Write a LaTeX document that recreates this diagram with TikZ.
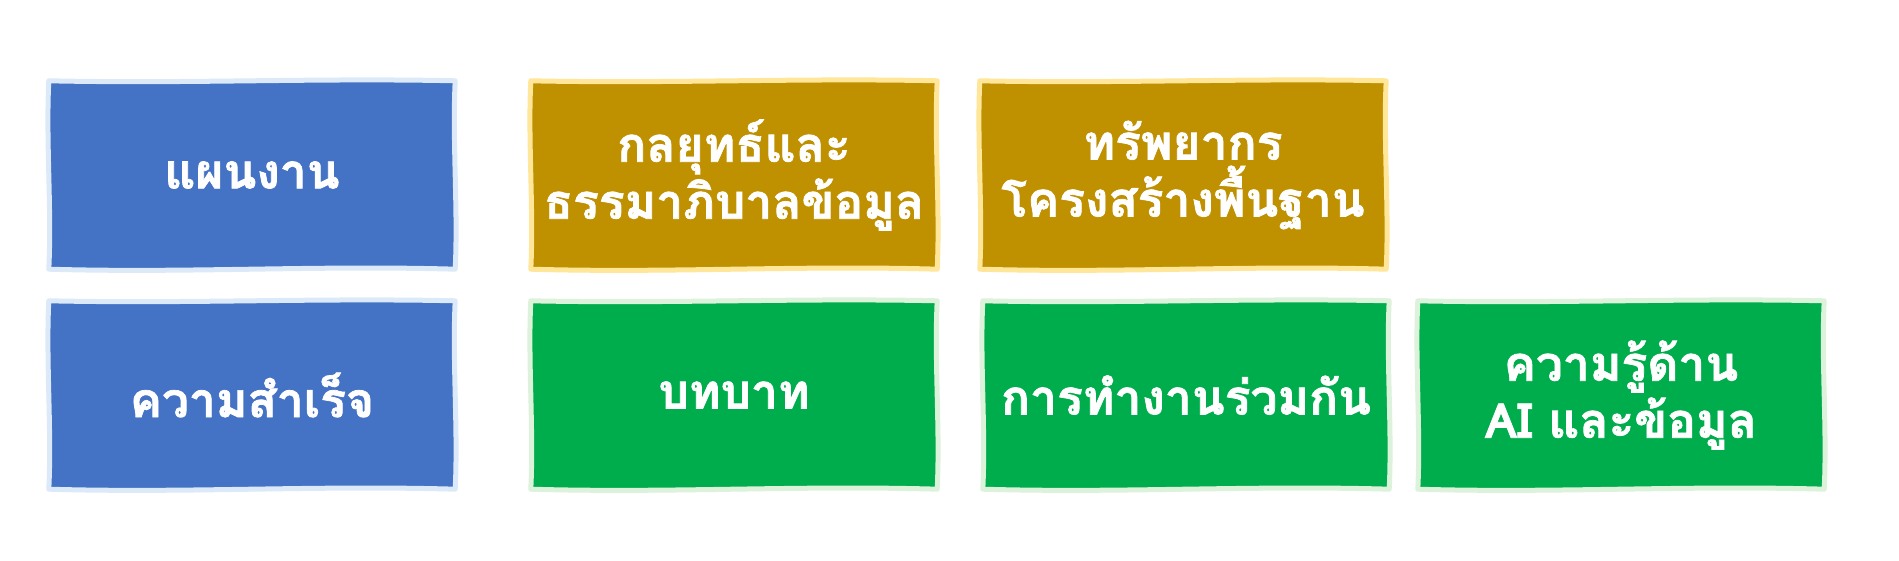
\documentclass[tikz,border=0pt]{standalone}
\usepackage{fontspec}
\newfontfamily\thaifont[Script=Thai,BoldFeatures={FakeBold=1.5}]{Loma}
\definecolor{cblue}{HTML}{4472C4}
\definecolor{cblueb}{HTML}{DCE9F8}
\definecolor{cgold}{HTML}{BF9000}
\definecolor{cgoldb}{HTML}{FFE699}
\definecolor{cgreen}{HTML}{00AD4D}
\definecolor{cgreenb}{HTML}{DDF2DA}
\tikzset{
  card/.style={rectangle, minimum width=406pt, minimum height=188pt,
    text=white, align=center, inner sep=0pt,
    font=\thaifont\bfseries\fontsize{48}{57}\selectfont},
  wave/.style={line width=5pt, line join=round},
  bluebg/.style={wave, fill=cblue, draw=cblueb},
  goldbg/.style={wave, fill=cgold, draw=cgoldb},
  greenbg/.style={wave, fill=cgreen, draw=cgreenb}
}
\newcommand{\cardbg}[2]{\path[#2] (#1.south west)
  .. controls +(140,-4) and +(-140,4) .. (#1.south east)
  .. controls +(3,60) and +(-3,-60) .. (#1.north east)
  .. controls +(-140,3) and +(140,-3) .. (#1.north west)
  .. controls +(-3,-60) and +(3,60) .. (#1.south west) -- cycle;}
\begin{document}
\begin{tikzpicture}[x=1pt,y=1pt]
\useasboundingbox (0,0) rectangle (1899,560);
\fill[white] (0,0) rectangle (1899,560);
\node[card] (plan)   at (252,385) {};
\node[card] (strat)  at (734,385) {};
\node[card] (res)    at (1183,385) {};
\node[card] (succ)   at (252,165) {};
\node[card] (role)   at (734,165) {};
\node[card] (collab) at (1186,165) {};
\node[card] (know)   at (1621,165) {};
\cardbg{plan}{bluebg}
\cardbg{strat}{goldbg}
\cardbg{res}{goldbg}
\cardbg{succ}{bluebg}
\cardbg{role}{greenbg}
\cardbg{collab}{greenbg}
\cardbg{know}{greenbg}
\node[card] at (plan)   {แผนงาน};
\node[card] at (strat)  {กลยุทธ์และ\\ธรรมาภิบาลข้อมูล};
\node[card] at (res)    {ทรัพยากร\\โครงสร้างพื้นฐาน};
\node[card] at (succ)   {ความสำเร็จ};
\node[card] at (role)   {บทบาท};
\node[card] at (collab) {การทำงานร่วมกัน};
\node[card] at (know)   {ความรู้ด้าน\\AI และข้อมูล};
\end{tikzpicture}
\end{document}
